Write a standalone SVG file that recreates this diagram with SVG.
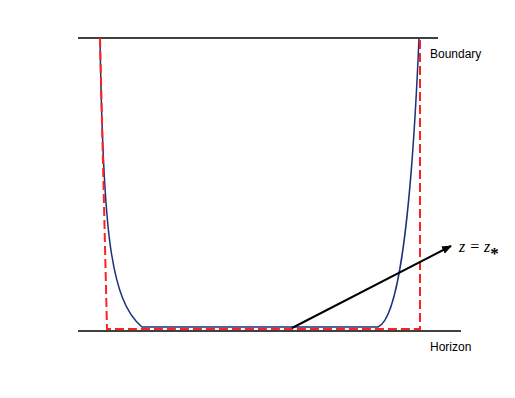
<svg xmlns="http://www.w3.org/2000/svg" width="515" height="398" viewBox="0 0 515 398">
<style>
.axis{stroke:#000;stroke-width:1.5;fill:none}
.blue{stroke:#1a3278;stroke-width:1.5;fill:none}
.red{stroke:#ff2020;stroke-width:2;fill:none;stroke-dasharray:9,4}
.lbl{font-family:"Liberation Sans",Arial,sans-serif;font-size:12px;fill:#000}
.math{font-family:"Liberation Serif","Times New Roman",serif;font-style:italic;font-size:16px;fill:#000}
</style>
<defs>
<marker id="ah" markerWidth="10" markerHeight="8" refX="9" refY="4" orient="auto" markerUnits="userSpaceOnUse">
<path d="M0,0 L10,4 L0,8 Z" fill="#000"/>
</marker>
</defs>
<g id="boundary">
<line class="axis" x1="78" y1="38" x2="438" y2="38"/>
<text class="lbl" x="430" y="58">Boundary</text>
</g>
<g id="horizon">
<line class="axis" x1="78" y1="331" x2="461" y2="331"/>
<text class="lbl" x="430" y="351">Horizon</text>
</g>
<g id="profile">
<path class="blue" d="M100,38 C103,230 110,300 142,327 L378,327 C395,320 410,250 419,38"/>
</g>
<g id="approx">
<path class="red" d="M100,38 L107,329 L420,329 L420,38"/>
</g>
<g id="connectors">
<line x1="292" y1="328" x2="451" y2="246" stroke="#000" stroke-width="2" marker-end="url(#ah)"/>
</g>
<g id="label-z">
<text class="math" x="459" y="252">z = z<tspan font-style="normal" font-weight="bold" font-size="17" dy="7">*</tspan></text>
</g>
</svg>
